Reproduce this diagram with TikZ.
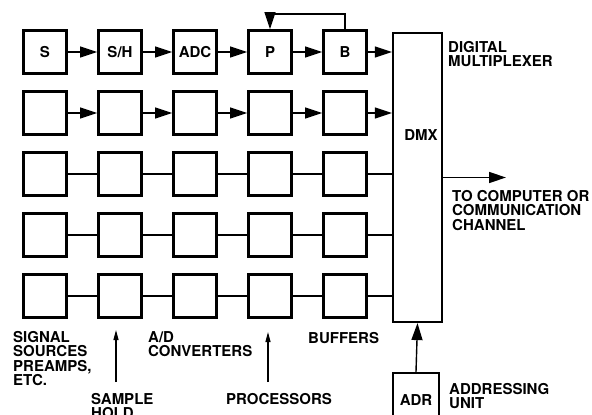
\documentclass[tikz,border=0pt]{standalone}
\usepackage{fontspec}
\setmainfont{TeX Gyre Heros}
\usetikzlibrary{arrows.meta, positioning}

\begin{document}
\begin{tikzpicture}[x=1pt, y=-1pt,
  every node/.style={font=\fontsize{15}{14.5}\selectfont\bfseries},
  blk/.style={draw, line width=2.8pt, minimum size=43pt, inner sep=0pt},
  lbl/.style={anchor=north west, align=left, inner sep=0pt},
  wire/.style={line width=1.4pt},
  arr/.style={wire, -{Triangle[length=17pt, width=11pt]}},
  pointer/.style={line width=1.1pt, -{Triangle[length=10pt, width=5pt]}}]
\useasboundingbox (0,0) rectangle (592,415);

% grid of channel blocks
\foreach \r in {1,...,5}
  \foreach \c in {1,...,5}
    \node[blk] (b\r\c) at ({45+75*(\c-1)}, {52+61*(\r-1)}) {};

\node at (b11) {S};
\node at (b12) {S/H};
\node at (b13) {ADC};
\node at (b14) {P};
\node at (b15) {B};

\node[draw, line width=2.2pt, minimum width=49pt, minimum height=289pt, inner sep=0pt] (dmx) at (417.5,177.5) {};
\node at (421,135) {DMX};

\node[draw, line width=2.2pt, minimum width=46pt, minimum height=54pt, inner sep=0pt] (adr) at (416,400) {ADR};

% connections along the rows
\foreach \r in {1,2} {
  \foreach \c [evaluate=\c as \n using int(\c+1)] in {1,...,4}
    \draw[arr] (b\r\c) -- (b\r\n);
  \draw[arr] (b\r5) -- (b\r5 -| dmx.west);
}
\foreach \r in {3,4,5} {
  \foreach \c [evaluate=\c as \n using int(\c+1)] in {1,...,4}
    \draw[wire] (b\r\c) -- (b\r\n);
  \draw[wire] (b\r5) -- (b\r5 -| dmx.west);
}

% feedback from buffer to processor
\draw[arr] (b15.north) -- ++(0,-15) -| (b14.north);

% output and addressing
\coordinate (out) at (506,177.5);
\draw[arr] (dmx.east |- out) -- (out);
\draw[arr] (adr.north) -- (dmx.south);

% labels
\node[lbl] at (448,41) {DIGITAL\\MULTIPLEXER};
\node[lbl] at (452,190) {TO COMPUTER OR\\COMMUNICATION\\CHANNEL};
\node[lbl] at (449,383) {ADDRESSING\\UNIT};
\node[lbl] at (13,331) {SIGNAL\\SOURCES\\PREAMPS,\\ETC.};
\node[lbl] at (148,331) {A/D\\CONVERTERS};
\node[lbl] at (308,332) {BUFFERS};
\node[lbl] (sh) at (91,393) {SAMPLE\\HOLD};
\node[lbl] (pr) at (226,393) {PROCESSORS};

\coordinate (shtip) at (116,330);
\coordinate (prtip) at (268,332);
\draw[pointer] (shtip |- sh.north) ++(0,-11) -- (shtip);
\draw[pointer] (prtip |- pr.north) ++(0,-11) -- (prtip);
\end{tikzpicture}
\end{document}
